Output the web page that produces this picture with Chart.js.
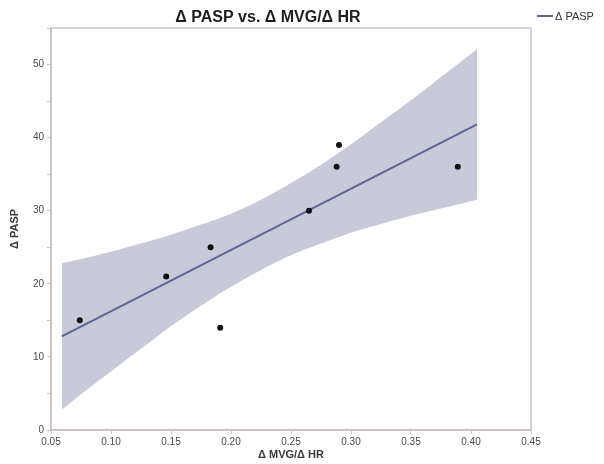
<!DOCTYPE html>
<html>
<head>
<meta charset="utf-8">
<script src="https://cdn.jsdelivr.net/npm/chart.js@4/dist/chart.umd.min.js"></script>
<style>
  html, body { margin: 0; padding: 0; background: #fff; }
  #wrap { width: 604px; height: 464px; }
</style>
</head>
<body>
<div id="wrap"><canvas id="mycanvas" width="604" height="464"></canvas></div>
<script>
// observed points
var xVals = [0.074, 0.146, 0.183, 0.191, 0.265, 0.288, 0.290, 0.389];
var yVals = [15, 21, 25, 14, 30, 36, 39, 36];

// fitted line ends
var fitX = [0.059, 0.405];
var fitY = [12.8, 41.8];

// confidence band, upper and lower edge
var bandX     = [0.059, 0.075, 0.10, 0.125, 0.15, 0.175, 0.20, 0.225, 0.25, 0.275, 0.30, 0.325, 0.35, 0.375, 0.405];
var bandUpper = [22.8, 23.4, 24.4, 25.5, 26.7, 28.1, 29.6, 31.5, 33.8, 36.3, 39.1, 42.1, 45.1, 48.3, 52.1];
var bandLower = [2.8, 4.9, 8.0, 11.1, 14.2, 17.0, 19.6, 21.9, 23.9, 25.5, 27.0, 28.2, 29.3, 30.3, 31.5];

var titleText = '\u0394 PASP vs. \u0394 MVG/\u0394 HR';
var legendText = '\u0394 PASP';

var axisColor = '#cbc2bf';
var lineColor = '#5b6593';
var fontFam = '"Liberation Sans Narrow", "Liberation Sans", Arial, sans-serif';

function pairs(xs, ys) {
  var out = [];
  for (var i = 0; i < xs.length; i++) out.push({x: xs[i], y: ys[i]});
  return out;
}

// frame + title + legend drawn on top of the chart
var decor = {
  id: 'decor',
  beforeDatasetsDraw: function(chart) {
    var a = chart.chartArea, ctx = chart.ctx;
    ctx.save();
    ctx.strokeStyle = axisColor;
    ctx.lineWidth = 1.5;
    ctx.strokeRect(a.left, a.top, a.right - a.left, a.bottom - a.top);
    ctx.restore();
  },
  afterDraw: function(chart) {
    var ctx = chart.ctx;
    ctx.save();
    ctx.fillStyle = '#1e1e1e';
    ctx.font = 'bold 16px ' + fontFam;
    ctx.textAlign = 'center';
    ctx.textBaseline = 'middle';
    ctx.fillText(titleText, 268, 18);

    ctx.strokeStyle = lineColor;
    ctx.lineWidth = 2;
    ctx.beginPath();
    ctx.moveTo(537, 16);
    ctx.lineTo(553, 16);
    ctx.stroke();
    ctx.fillStyle = '#333';
    ctx.font = '11px ' + fontFam;
    ctx.textAlign = 'left';
    ctx.fillText(legendText, 555, 16.5);
    ctx.restore();
  }
};

var ctx = document.getElementById('mycanvas');

var scatterChart = new Chart(ctx, {
  type: 'scatter',
  data: {
    datasets: [
      {
        label: 'points',
        data: pairs(xVals, yVals),
        backgroundColor: '#111',
        borderWidth: 0,
        pointRadius: 3
      },
      {
        label: legendText,
        data: pairs(fitX, fitY),
        showLine: true,
        borderColor: lineColor,
        borderWidth: 2,
        pointRadius: 0
      },
      {
        label: 'lower',
        data: pairs(bandX, bandLower),
        showLine: true,
        borderWidth: 0,
        borderColor: 'rgba(0,0,0,0)',
        pointRadius: 0,
        tension: 0.3
      },
      {
        label: 'upper',
        data: pairs(bandX, bandUpper),
        showLine: true,
        borderWidth: 0,
        borderColor: 'rgba(0,0,0,0)',
        backgroundColor: 'rgb(201, 202, 217)',
        fill: '-1',
        pointRadius: 0,
        tension: 0.3
      }
    ]
  },
  options: {
    responsive: false,
    animation: false,
    layout: { padding: { top: 28, right: 73, left: 0, bottom: 0 } },
    plugins: {
      legend: { display: false },
      title: { display: false },
      tooltip: { enabled: false }
    },
    scales: {
      x: {
        type: 'linear',
        min: 0.05,
        max: 0.45,
        afterFit: function(scale) { scale.height = 34; },
        border: { display: true, color: axisColor, width: 1.5 },
        grid: { drawOnChartArea: false, drawTicks: true, tickLength: 4, color: axisColor },
        ticks: {
          stepSize: 0.05,
          padding: 2,
          color: '#4a4a4a',
          font: { family: fontFam, size: 10 },
          maxRotation: 0,
          callback: function(v) { return v.toFixed(2); }
        },
        title: {
          display: true,
          text: '\u0394 MVG/\u0394 HR',
          color: '#3a3a3a',
          font: { family: fontFam, size: 11, weight: 'bold' },
          padding: { top: 0, bottom: 2 }
        }
      },
      y: {
        min: 0,
        max: 55,
        afterFit: function(scale) { scale.width = 51; },
        border: { display: true, color: axisColor, width: 1.5 },
        grid: { drawOnChartArea: false, drawTicks: true, tickLength: 4, color: axisColor },
        ticks: {
          stepSize: 5,
          padding: 3,
          color: '#4a4a4a',
          font: { family: fontFam, size: 10 },
          callback: function(v) { return v % 10 === 0 ? v : ''; }
        },
        title: {
          display: true,
          text: '\u0394 PASP',
          color: '#3a3a3a',
          font: { family: fontFam, size: 11, weight: 'bold' },
          padding: { top: 8, bottom: 0 }
        }
      }
    }
  },
  plugins: [decor]
});
</script>
</body>
</html>
